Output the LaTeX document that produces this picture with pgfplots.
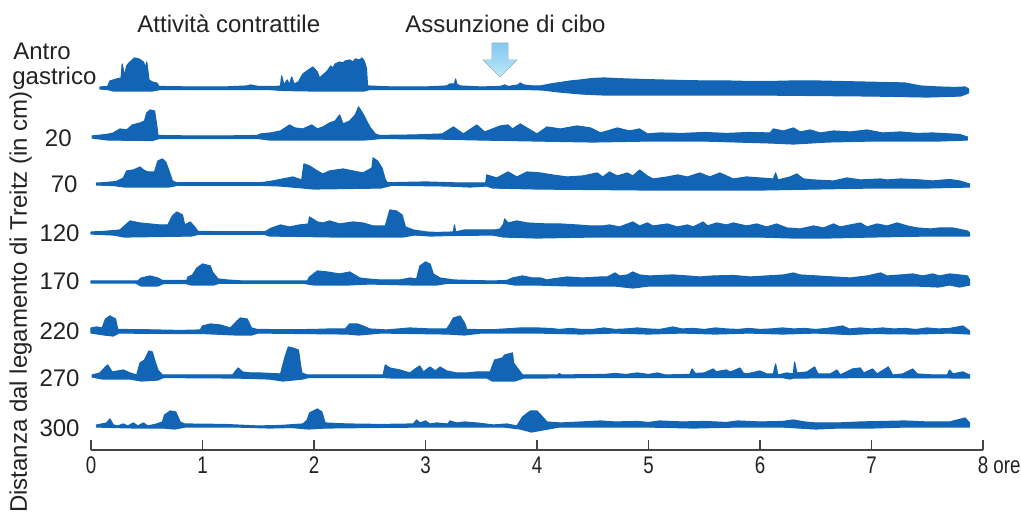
\documentclass[border=0pt]{standalone}
\usepackage{fontspec}
\setmainfont{Liberation Sans}
\usepackage{graphicx}
\usepackage{pgfplots}
\pgfplotsset{compat=1.18}

\definecolor{tr}{RGB}{17,101,180}
\definecolor{ink}{RGB}{35,35,35}
\definecolor{arrowtop}{RGB}{130,200,238}
\definecolor{arrowbot}{RGB}{190,232,250}

\newcommand\cz[1]{\scalebox{0.78}[1]{#1}}

% each trace: upper envelope left->right, then lower envelope right->left,
% amplitudes in px above the trace's baseline (shifted by #1)
\pgfplotsset{trace/.style={draw=tr, fill=tr, line width=0.6pt, line join=round,
  y filter/.expression={y+#1}}}

\begin{document}
\begin{tikzpicture}[lab/.style={font=\fontsize{12}{14}\selectfont, text=ink, inner sep=0pt}]
\begin{axis}[
  scale only axis, width=446pt, height=220pt,
  xmin=0, xmax=8, ymin=0, ymax=440,
  axis x line*=bottom, axis y line=none,
  x axis line style={draw=ink!85, line width=0.75pt},
  xtick={0,...,8},
  xticklabels={\cz{0},\cz{1},\cz{2},\cz{3},\cz{4},\cz{5},\cz{6},\cz{7},{\cz{8}\rlap{\cz{\ ore}}}},
  xticklabel style={font=\fontsize{12}{14}\selectfont, text=ink},
  tick align=inside, major tick length=5pt,
  xtick style={draw=ink!85, line width=0.7pt},
  ytick=\empty,
  clip=false,
]
% bounding box = 1021 x 513 px
\path (axis cs:-0.8161,450) rectangle (axis cs:8.3408,-63);

% Antro gastrico
\addplot[trace=362] coordinates {
(0.08,1) (0.15,1.5) (0.17,7) (0.23,9) (0.27,10) (0.28,24) (0.30,12) (0.32,22) (0.34,25) (0.36,27) (0.39,30) (0.43,29) (0.47,26) (0.49,20) (0.50,26) (0.52,8) (0.55,6) (0.59,5) (0.61,1.5) (0.90,1) (1.20,1) (1.40,2) (1.43,3) (1.50,1.5) (1.65,1.5) (1.70,2) (1.71,12) (1.73,3) (1.76,8) (1.78,3) (1.80,11) (1.82,4) (1.86,6) (1.90,14) (1.95,18) (1.99,21) (2.03,16) (2.05,10) (2.08,13) (2.12,17) (2.15,22) (2.17,20) (2.19,24) (2.23,26) (2.26,25) (2.28,27) (2.32,28) (2.35,26) (2.37,29) (2.41,28) (2.43,30) (2.45,27) (2.47,20) (2.48,2) (2.70,1) (3.00,1) (3.19,2) (3.22,4) (3.26,4) (3.27,9) (3.28,4) (3.31,2) (3.50,1) (3.67,1.5) (3.71,3) (3.74,1.5) (3.83,3) (3.85,5) (3.88,3) (3.96,2) (4.03,2) (4.12,4) (4.21,5.5) (4.30,7) (4.39,8) (4.50,9.5) (4.60,10) (4.70,9.5) (4.80,9) (4.95,8.5) (5.10,8) (5.30,7.5) (5.50,7) (5.70,7) (5.90,6.5) (6.10,6.5) (6.30,7) (6.50,7) (6.70,6.5) (6.90,6) (7.10,5.5) (7.30,5) (7.44,2) (7.60,1) (7.75,0.5) (7.84,1) (7.87,-1)
(7.87,-5) (7.80,-8) (7.50,-9) (7.00,-8) (6.50,-7.5) (6.00,-7) (5.50,-7) (5.00,-7) (4.60,-7) (4.40,-6) (4.20,-4) (4.05,-2) (3.90,-1.5) (3.30,-1.5) (2.50,-1.5) (2.45,-3) (2.00,-3) (1.72,-2.5) (1.60,-1.5) (0.62,-1.5) (0.55,-3) (0.20,-3) (0.15,-1.5) (0.08,-1)
} -- cycle;

% 20 cm
\addplot[trace=313] coordinates {
(0.01,1) (0.14,2.5) (0.20,4) (0.26,8) (0.32,7) (0.37,12) (0.44,14) (0.48,16) (0.50,24) (0.53,27) (0.57,26) (0.59,11) (0.60,1.5) (0.90,1) (1.20,1) (1.49,1.5) (1.52,3) (1.61,4) (1.70,6) (1.78,12) (1.83,9) (1.90,8) (1.98,12) (2.03,8) (2.08,10) (2.14,14) (2.19,16) (2.23,22) (2.26,13) (2.32,16) (2.37,22) (2.40,30) (2.44,23) (2.50,10) (2.55,3) (2.59,1.5) (2.90,2) (3.15,3) (3.25,10) (3.34,3) (3.46,12) (3.53,5) (3.67,11) (3.74,12) (3.78,8) (3.85,13) (3.91,9) (4.00,3) (4.09,10) (4.21,8) (4.36,11) (4.48,9) (4.57,4) (4.72,9) (4.83,6) (4.92,8) (4.99,3) (5.10,4) (5.30,3.5) (5.50,4.5) (5.70,3.5) (5.90,4.5) (6.09,4) (6.12,8) (6.21,6) (6.30,9) (6.36,5) (6.45,7) (6.54,4) (6.66,6) (6.81,5) (6.96,7) (7.10,4) (7.26,5) (7.41,3.5) (7.55,4) (7.79,2.5) (7.86,0)
(7.86,-3) (7.60,-4) (7.00,-4) (6.60,-5) (6.30,-7) (6.10,-6) (5.50,-4) (5.00,-4) (4.50,-5) (4.00,-4) (3.50,-3) (3.10,-2) (2.60,-1.5) (2.45,-3) (1.60,-3) (1.50,-1.5) (0.61,-1.5) (0.55,-3.5) (0.15,-3) (0.01,-1)
} -- cycle;

% 70 cm
\addplot[trace=266] coordinates {
(0.05,1) (0.11,1.2) (0.23,2.5) (0.29,6) (0.32,13) (0.38,14) (0.44,17) (0.47,14) (0.51,12) (0.57,12) (0.60,23) (0.64,25) (0.67,22) (0.70,13) (0.73,3) (0.77,1.2) (1.20,1.2) (1.49,1.2) (1.54,1.5) (1.63,3) (1.72,5) (1.81,7) (1.89,4) (1.91,20) (1.96,18) (2.03,13) (2.08,10) (2.14,13) (2.26,15) (2.35,13) (2.44,11) (2.52,16) (2.53,26) (2.57,23) (2.61,16) (2.64,4) (2.66,1.2) (3.00,2) (3.30,1) (3.54,1) (3.55,9) (3.64,6) (3.74,12) (3.82,7) (3.91,12) (4.03,11) (4.14,9) (4.27,7) (4.41,8) (4.54,11) (4.59,7) (4.65,12) (4.72,8) (4.81,11) (4.86,8) (4.92,14) (4.99,8) (5.04,5) (5.17,7) (5.26,9) (5.35,7) (5.46,11) (5.55,7) (5.64,11) (5.76,5) (5.88,7) (6.00,6) (6.12,5) (6.14,11) (6.16,4) (6.27,7) (6.33,10) (6.39,5) (6.48,4) (6.66,3) (6.78,6) (6.90,4) (7.08,5) (7.14,4) (7.26,5) (7.44,4) (7.55,3) (7.70,4.5) (7.79,3) (7.88,0)
(7.88,-3) (7.50,-4) (7.00,-4) (6.50,-5) (6.00,-6) (5.50,-6) (5.00,-6) (4.50,-5.5) (4.00,-5) (3.60,-4) (3.55,-2) (3.40,-3) (3.20,-2) (2.70,-1.2) (2.60,-4) (2.00,-5) (1.90,-4) (1.70,-2) (1.50,-1.2) (0.78,-1.2) (0.70,-3) (0.30,-3) (0.20,-1.5) (0.05,-1)
} -- cycle;

% 120 cm
\addplot[trace=217] coordinates {
(0.00,1) (0.11,1.5) (0.26,3) (0.32,9) (0.35,12) (0.44,10) (0.53,9) (0.62,8) (0.69,8) (0.73,17) (0.77,21) (0.82,18) (0.84,8) (0.89,11) (0.93,6) (0.96,1.5) (1.30,1.2) (1.56,1.2) (1.62,5) (1.70,8) (1.78,6) (1.87,8) (1.95,9) (1.96,16) (2.03,11) (2.08,10) (2.14,12) (2.23,9) (2.35,11) (2.44,10) (2.53,7) (2.64,7) (2.68,23) (2.74,22) (2.79,18) (2.82,6) (2.89,3) (3.01,1) (3.10,0.5) (3.25,1) (3.26,8) (3.27,1) (3.35,3) (3.50,3) (3.62,3) (3.67,4) (3.70,9) (3.71,14) (3.74,10) (3.82,12) (3.91,10) (4.09,9) (4.21,9) (4.36,8) (4.48,7) (4.59,7) (4.65,8) (4.74,6) (4.86,11) (4.92,7) (4.99,10) (5.04,7) (5.17,9) (5.26,6) (5.35,8) (5.40,6) (5.49,11) (5.53,7) (5.61,10) (5.70,8) (5.76,10) (5.88,7) (5.97,9) (6.06,6) (6.15,9) (6.24,5) (6.36,4) (6.48,7) (6.57,5) (6.66,9) (6.72,6) (6.81,8) (6.90,10) (6.96,6) (7.05,9) (7.14,7) (7.23,10) (7.32,7) (7.41,5) (7.53,4) (7.61,5) (7.73,5) (7.86,2) (7.88,0)
(7.88,-3) (7.50,-3) (7.00,-4) (6.60,-5) (6.30,-5) (6.00,-4) (5.50,-4) (5.00,-4) (4.50,-4) (4.00,-5) (3.70,-4) (3.60,-2) (3.20,-2.5) (3.05,-3) (2.90,-2) (2.80,-4) (2.20,-4) (1.60,-3) (1.55,-1.2) (0.97,-1.2) (0.90,-3) (0.30,-4) (0.20,-2) (0.00,-1)
} -- cycle;

% 170 cm
\addplot[trace=168] coordinates {
(0.00,1) (0.42,1) (0.45,4) (0.53,6) (0.60,4) (0.64,1.5) (0.86,1.5) (0.87,5) (0.91,7) (0.95,14) (1.00,18) (1.07,16) (1.09,10) (1.14,3) (1.22,2) (1.36,1) (1.94,1) (1.96,5) (2.03,11) (2.12,10) (2.23,8) (2.32,10) (2.41,4) (2.48,3) (2.59,2) (2.77,2) (2.86,4) (2.92,3) (2.95,16) (3.00,20) (3.04,18) (3.07,8) (3.13,4) (3.25,2) (3.50,1.2) (3.61,1) (3.73,1.5) (3.78,4) (3.87,6) (3.96,4) (4.03,4) (4.09,2) (4.14,3) (4.27,5) (4.41,4) (4.57,5) (4.63,5) (4.70,9) (4.74,6) (4.81,7) (4.86,10) (4.92,7) (5.01,6) (5.10,6.5) (5.22,7) (5.35,6) (5.46,5) (5.58,6) (5.76,6.5) (5.91,5) (6.06,6) (6.21,7) (6.30,9) (6.36,7) (6.51,6) (6.66,5) (6.81,4) (6.96,6) (7.08,9) (7.14,6) (7.26,7) (7.37,8) (7.46,6) (7.55,8) (7.61,6) (7.70,8) (7.79,7) (7.86,6) (7.88,2)
(7.88,-3) (7.79,-5) (7.70,-3) (7.60,-5) (7.40,-4) (7.00,-4) (6.50,-4) (6.00,-4) (5.50,-4) (5.00,-4) (4.86,-6) (4.70,-4) (4.30,-4) (4.00,-3) (3.80,-3) (3.70,-1.2) (3.20,-1.2) (3.10,-3) (2.90,-3) (2.50,-2) (2.30,-3) (2.00,-3) (1.90,-1.2) (1.15,-1.2) (1.10,-3) (0.90,-3) (0.85,-1.5) (0.65,-1.5) (0.60,-4) (0.45,-4) (0.40,-1) (0.00,-1)
} -- cycle;

% 220 cm
\addplot[trace=119] coordinates {
(0.00,3) (0.05,4) (0.10,3) (0.13,12) (0.17,15) (0.22,12) (0.24,1.5) (0.50,1.2) (0.80,0.5) (0.98,1) (1.00,5) (1.07,7) (1.16,6) (1.25,3) (1.31,10) (1.34,13) (1.40,12) (1.44,3) (1.49,1.5) (1.80,1.2) (2.00,1.5) (2.14,2) (2.28,2) (2.32,7) (2.39,7) (2.44,5) (2.50,2) (2.65,1) (2.86,3) (2.95,2.5) (3.04,2) (3.19,2) (3.22,7) (3.25,13) (3.31,15) (3.35,8) (3.37,1.5) (3.60,1.2) (3.85,3) (4.00,3) (4.12,2.5) (4.20,1.5) (4.30,2.5) (4.40,1.5) (4.50,1.5) (4.60,3) (4.70,1.5) (4.80,2) (4.90,3) (5.00,2) (5.10,1.5) (5.22,4) (5.30,2) (5.40,2.5) (5.50,1.5) (5.60,3) (5.70,2) (5.80,1.5) (5.90,2.5) (6.00,1.5) (6.10,2) (6.20,3) (6.30,2) (6.40,2.5) (6.50,1.5) (6.60,2.5) (6.74,5) (6.80,2) (6.90,3) (7.00,2) (7.10,3) (7.20,2) (7.30,2.5) (7.40,1.5) (7.50,3) (7.60,2) (7.70,2.5) (7.82,5) (7.88,0)
(7.88,-3) (7.70,-2) (7.40,-3) (7.00,-2.5) (6.80,-3.5) (6.50,-2) (6.20,-3) (5.90,-2) (5.60,-3) (5.30,-2) (5.00,-3) (4.70,-2) (4.40,-3) (4.00,-2) (3.50,-2) (3.35,-4) (3.20,-3) (2.60,-2) (2.40,-4) (2.30,-3) (1.50,-2) (1.44,-4) (1.30,-4) (1.00,-2.5) (0.70,-2.5) (0.25,-2) (0.20,-5) (0.12,-4) (0.00,-2)
} -- cycle;

% 270 cm
\addplot[trace=74] coordinates {
(0.01,1) (0.08,3) (0.13,9) (0.15,11) (0.19,4) (0.24,5) (0.29,6) (0.35,3) (0.41,1) (0.44,13) (0.48,16) (0.52,25) (0.55,24) (0.57,16) (0.60,6) (0.64,1) (1.27,1) (1.29,4) (1.32,8) (1.36,4) (1.43,3) (1.52,3) (1.61,2.5) (1.70,2) (1.74,19) (1.77,29) (1.81,28) (1.86,26) (1.89,3) (1.94,1) (2.62,1) (2.64,11) (2.68,8) (2.77,6) (2.86,3) (2.92,8) (2.95,10) (2.98,4) (3.04,9) (3.09,5) (3.13,9) (3.19,5) (3.28,3) (3.37,3) (3.46,4) (3.58,4) (3.62,16) (3.69,18) (3.71,21) (3.78,23) (3.79,13) (3.85,4) (3.87,1) (4.19,1) (4.20,2.5) (4.22,1) (4.60,1.5) (4.70,2.5) (4.80,1.5) (4.90,3) (5.00,1.5) (5.08,3) (5.15,1) (5.37,1.5) (5.39,7) (5.42,2.5) (5.50,3) (5.58,7) (5.61,4) (5.64,5) (5.70,6) (5.73,4) (5.76,5) (5.82,8) (5.85,3) (5.88,2) (6.00,5) (6.06,2) (6.12,2) (6.14,12) (6.16,1) (6.24,3) (6.30,2) (6.31,14) (6.33,3) (6.42,4) (6.49,9) (6.52,2) (6.63,2) (6.69,6) (6.72,1) (6.83,7) (6.90,8) (6.93,3) (7.01,7) (7.05,2) (7.15,9) (7.19,1) (7.28,2) (7.37,7) (7.41,2) (7.55,1) (7.68,1) (7.70,6) (7.73,2) (7.77,3) (7.82,4) (7.88,1)
(7.88,-2) (7.00,-1.5) (6.30,-2) (6.27,-3) (6.20,-1.5) (5.50,-1.5) (5.00,-1.5) (4.50,-1.5) (4.00,-2) (3.88,-2) (3.80,-5) (3.60,-5) (3.55,-2) (2.70,-2) (2.62,-1.5) (1.95,-1.5) (1.90,-3) (1.72,-5) (1.60,-3) (1.30,-2) (0.65,-1.5) (0.60,-4) (0.45,-5) (0.35,-3) (0.10,-3) (0.01,-1)
} -- cycle;

% 300 cm
\addplot[trace=25] coordinates {
(0.05,0) (0.14,2) (0.17,6) (0.20,0) (0.24,-1) (0.29,1) (0.33,-1) (0.38,2) (0.42,-1) (0.47,2) (0.51,-1) (0.59,1) (0.64,3) (0.66,10) (0.71,14) (0.76,13) (0.80,3) (0.84,1) (1.20,0.5) (1.50,-1) (1.70,-0.5) (1.90,1) (1.94,5) (1.96,12) (2.03,16) (2.07,13) (2.10,2) (2.30,1) (2.60,0.5) (2.89,1) (2.92,5) (2.95,2) (3.00,4) (3.04,1) (3.10,2) (3.20,1) (3.22,4) (3.28,2) (3.35,3) (3.46,2) (3.61,0) (3.73,1) (3.82,-1) (3.87,8) (3.94,14) (4.00,14) (4.05,8) (4.09,3) (4.21,2) (4.40,3) (4.57,4) (4.70,3) (4.90,3.5) (5.00,2.5) (5.10,4) (5.30,3) (5.50,3.5) (5.70,2.5) (5.80,4) (6.00,3) (6.20,3.5) (6.30,5) (6.40,3) (6.50,2) (6.70,2) (6.90,3) (7.10,3.5) (7.30,4) (7.50,3) (7.70,3) (7.84,7) (7.88,2)
(7.88,-2) (7.60,-2) (7.30,-2) (7.00,-3) (6.70,-3) (6.50,-4) (6.20,-2) (5.80,-2) (5.40,-3) (5.00,-2) (4.60,-2) (4.20,-2) (4.05,-5) (3.95,-7) (3.85,-4) (3.70,-2) (3.50,-2) (3.00,-2) (2.50,-2.5) (2.10,-3) (1.95,-4) (1.80,-2.5) (1.60,-3) (1.30,-2) (0.85,-2) (0.75,-4) (0.65,-3) (0.40,-3) (0.20,-2.5) (0.05,-2)
} -- cycle;

% meal arrow
\fill[top color=arrowtop, bottom color=arrowbot]
  (axis cs:3.596,407) -- (axis cs:3.740,407) -- (axis cs:3.740,390)
  -- (axis cs:3.821,390) -- (axis cs:3.668,373) -- (axis cs:3.516,390)
  -- (axis cs:3.596,390) -- cycle;

% labels
\node[lab, anchor=base west] at (axis cs:0.413,417) {Attività contrattile};
\node[lab, anchor=base west] at (axis cs:2.816,417) {Assunzione di cibo};
\node[lab, anchor=base west] at (axis cs:-0.700,390) {Antro};
\node[lab, anchor=base west] at (axis cs:-0.709,365) {gastrico};
\node[lab, anchor=base east] at (axis cs:-0.170,303) {20};
\node[lab, anchor=base east] at (axis cs:-0.117,257) {70};
\node[lab, anchor=base east] at (axis cs:-0.099,208) {120};
\node[lab, anchor=base east] at (axis cs:-0.099,160) {170};
\node[lab, anchor=base east] at (axis cs:-0.099,110) {220};
\node[lab, anchor=base east] at (axis cs:-0.099,63) {270};
\node[lab, anchor=base east] at (axis cs:-0.099,13) {300};
\node[lab, rotate=90, anchor=base] at (axis cs:-0.574,148) {Distanza dal legamento di Treitz (in cm)};
\end{axis}
\end{tikzpicture}
\end{document}
